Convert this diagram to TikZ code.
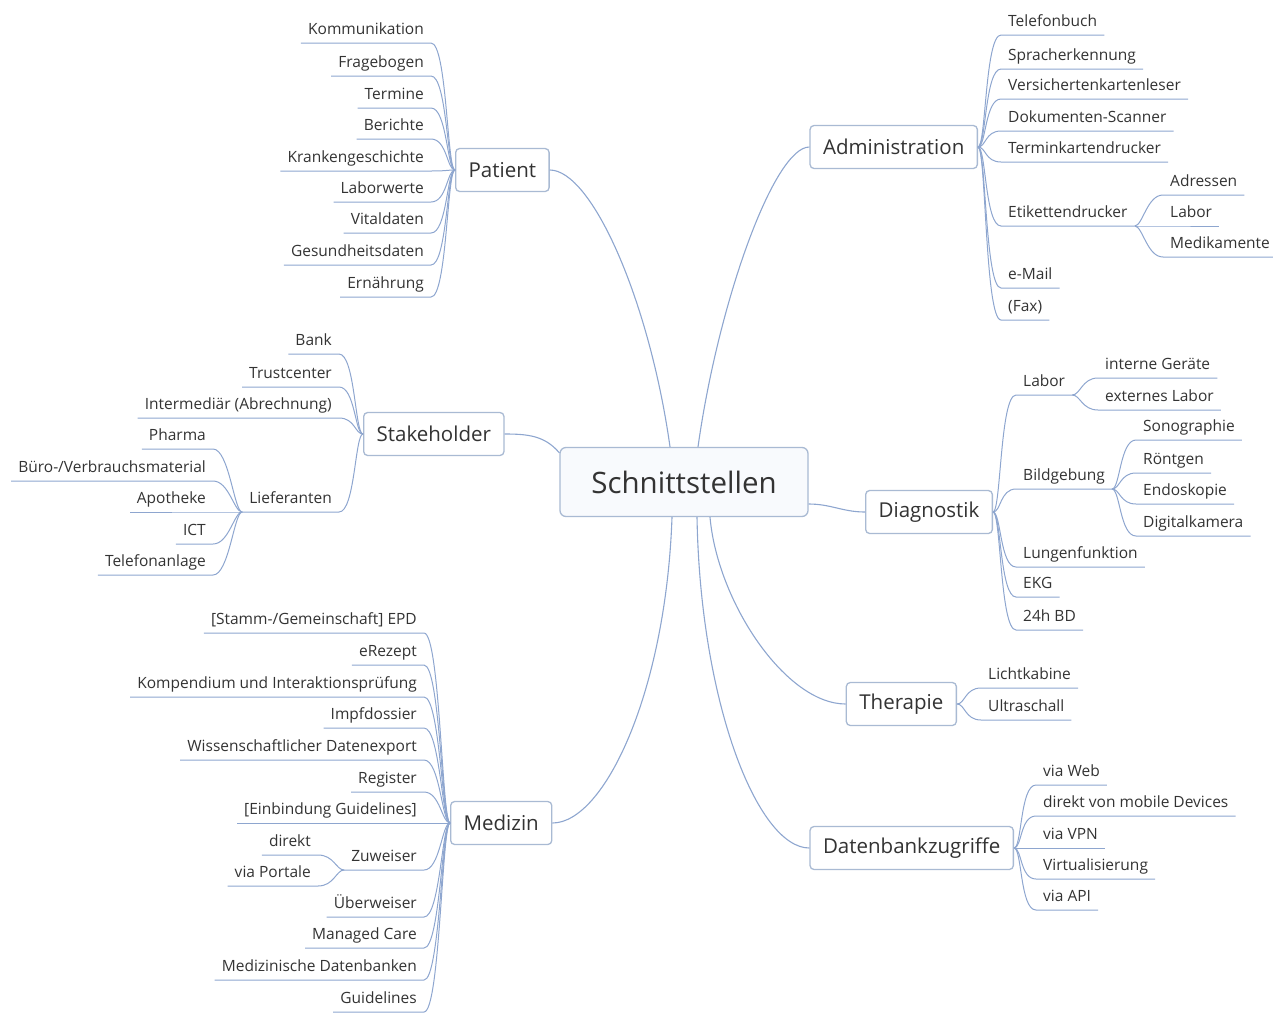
\documentclass[tikz,border=0pt]{standalone}
\usepackage{fontspec}
\setmainfont{Open Sans}
\usepackage{tikz}
\usetikzlibrary{positioning}
\definecolor{linkblue}{HTML}{8EA6CF}
\definecolor{boxline}{HTML}{A9BAD3}
\definecolor{hubfill}{HTML}{F8FAFD}
\definecolor{textgray}{HTML}{333333}

\begin{document}
\begin{tikzpicture}[
  x=1pt, y=1pt,
  every node/.style={text=textgray},
  hub/.style={
    rectangle, rounded corners=6pt,
    minimum width=248pt, minimum height=69pt, inner sep=0pt,
    draw=boxline, line width=1.3pt, fill=hubfill,
    font=\fontsize{29.5}{34}\selectfont,
  },
  topic/.style={
    rectangle, rounded corners=4pt,
    minimum height=43pt, inner xsep=13pt, inner ysep=0pt,
    draw=boxline, line width=1.3pt, fill=white,
    font=\fontsize{20.5}{24}\selectfont,
  },
  leaf/.style={
    inner xsep=7pt, inner ysep=4pt, text height=11pt, text depth=4pt,
    font=\fontsize{15.5}{18}\selectfont,
  },
  lleaf/.style={leaf, anchor=south east},
  rleaf/.style={leaf, anchor=south west},
  branch/.style={draw=linkblue, line width=1.1pt},
  twig/.style={draw=linkblue, line width=1pt},
  lcurve/.style={out=180, in=0, out distance=8pt, in distance=16pt},
  rcurve/.style={out=0, in=180, out distance=8pt, in distance=16pt},
]
\useasboundingbox (0,0) rectangle (1273,-1012);

% Centre
\node[hub] (schnitt) at (684,-482) {Schnittstellen};

% Main topics
\node[topic, anchor=west] (patient)  at (455,-170)  {Patient};
\node[topic, anchor=east] (admin)    at (978,-147)  {Administration};
\node[topic, anchor=west] (stake)    at (363,-434)  {Stakeholder};
\node[topic, anchor=east] (diag)     at (993,-512)  {Diagnostik};
\node[topic, anchor=east] (therapie) at (957,-704)  {Therapie};
\node[topic, anchor=east] (dbz)      at (1014,-848) {Datenbankzugriffe};
\node[topic, anchor=west] (medizin)  at (450,-823)  {Medizin};

% Patient — leaves
\node[lleaf] (kom)     at (431,-43)  {Kommunikation};
\node[lleaf] (frage)   at (431,-76)  {Fragebogen};
\node[lleaf] (termine) at (431,-108) {Termine};
\node[lleaf] (bericht) at (431,-139) {Berichte};
\node[lleaf] (kg)      at (431,-171) {Krankengeschichte};
\node[lleaf] (labw)    at (431,-202) {Laborwerte};
\node[lleaf] (vital)   at (431,-233) {Vitaldaten};
\node[lleaf] (gesund)  at (431,-265) {Gesundheitsdaten};
\node[lleaf] (ernaehr) at (431,-297) {Ernährung};

% Administration — leaves
\node[rleaf] (telbuch) at (1001,-35)  {Telefonbuch};
\node[rleaf] (sprache) at (1001,-69)  {Spracherkennung};
\node[rleaf] (vkl)     at (1001,-99)  {Versichertenkartenleser};
\node[rleaf] (scanner) at (1001,-131) {Dokumenten-Scanner};
\node[rleaf] (tkd)     at (1001,-162) {Terminkartendrucker};
\node[rleaf] (etik)    at (1001,-226) {Etikettendrucker};
\node[rleaf] (mail)    at (1001,-288) {e-Mail};
\node[rleaf] (fax)     at (1001,-320) {(Fax)};
\node[rleaf] (adr)     at (1163,-195) {Adressen};
\node[rleaf] (labetik) at (1163,-226) {Labor};
\node[rleaf] (medik)   at (1163,-257) {Medikamente};

% Stakeholder — leaves
\node[lleaf] (bank)    at (339,-354) {Bank};
\node[lleaf] (trust)   at (339,-387) {Trustcenter};
\node[lleaf] (inter)   at (339,-418) {Intermediär (Abrechnung)};
\node[lleaf] (lief)    at (339,-512) {Lieferanten};
\node[lleaf] (pharma)  at (213,-449) {Pharma};
\node[lleaf] (buero)   at (213,-481) {Büro-/Verbrauchsmaterial};
\node[lleaf] (apo)     at (213,-512) {Apotheke};
\node[lleaf] (ict)     at (213,-544) {ICT};
\node[lleaf] (telanl)  at (213,-575) {Telefonanlage};

% Diagnostik — leaves
\node[rleaf] (labdia)  at (1016,-395) {Labor};
\node[rleaf] (intern)  at (1098,-378) {interne Geräte};
\node[rleaf] (extern)  at (1098,-410) {externes Labor};
\node[rleaf] (bild)    at (1016,-489) {Bildgebung};
\node[rleaf] (sono)    at (1136,-440) {Sonographie};
\node[rleaf] (roent)   at (1136,-473) {Röntgen};
\node[rleaf] (endo)    at (1136,-504) {Endoskopie};
\node[rleaf] (digi)    at (1136,-536) {Digitalkamera};
\node[rleaf] (lunge)   at (1016,-567) {Lungenfunktion};
\node[rleaf] (ekg)     at (1016,-597) {EKG};
\node[rleaf] (bd)      at (1016,-630) {24h BD};

% Therapie — leaves
\node[rleaf] (licht)   at (981,-688) {Lichtkabine};
\node[rleaf] (ultra)   at (981,-720) {Ultraschall};

% Datenbankzugriffe — leaves
\node[rleaf] (web)     at (1036,-785) {via Web};
\node[rleaf] (mobile)  at (1036,-816) {direkt von mobile Devices};
\node[rleaf] (vpn)     at (1036,-848) {via VPN};
\node[rleaf] (virt)    at (1036,-879) {Virtualisierung};
\node[rleaf] (api)     at (1036,-910) {via API};

% Medizin — leaves
\node[lleaf] (epd)     at (424,-633)  {[Stamm-/Gemeinschaft] EPD};
\node[lleaf] (erezept) at (424,-665)  {eRezept};
\node[lleaf] (kompend) at (424,-697)  {Kompendium und Interaktionsprüfung};
\node[lleaf] (impf)    at (424,-728)  {Impfdossier};
\node[lleaf] (wiss)    at (424,-760)  {Wissenschaftlicher Datenexport};
\node[lleaf] (register) at (424,-792) {Register};
\node[lleaf] (einb)    at (424,-823)  {[Einbindung Guidelines]};
\node[lleaf] (zuw)     at (424,-870)  {Zuweiser};
\node[lleaf] (direkt)  at (318,-855)  {direkt};
\node[lleaf] (portale) at (318,-886)  {via Portale};
\node[lleaf] (ueberw)  at (424,-917)  {Überweiser};
\node[lleaf] (managed) at (424,-948)  {Managed Care};
\node[lleaf] (meddb)   at (424,-980)  {Medizinische Datenbanken};
\node[lleaf] (guide)   at (424,-1012) {Guidelines};

% Centre -> main topics
\draw[branch] ([xshift=-14pt]schnitt.north) to[out=98, in=0, out distance=148pt, in distance=42pt] (patient.east);
\draw[branch] ([xshift=14pt]schnitt.north) to[out=82, in=180, out distance=148pt, in distance=35pt] (admin.west);
\draw[branch] ([yshift=-6pt]schnitt.north west) to[out=130, in=0] (stake.east);
\draw[branch] ([yshift=-22pt]schnitt.east) to[out=0, in=180] (diag.west);
\draw[branch] ([xshift=26pt]schnitt.south) to[out=275, in=180, out distance=85pt, in distance=60pt] (therapie.west);
\draw[branch] ([xshift=13pt]schnitt.south) to[out=271, in=180, out distance=185pt, in distance=52pt] (dbz.west);
\draw[branch] ([xshift=-12pt]schnitt.south) to[out=268, in=0, out distance=175pt, in distance=52pt] (medizin.east);

% Patient -> leaves
\draw[twig] (patient.west) to[lcurve] (kom.south east) -- (kom.south west);
\draw[twig] (patient.west) to[lcurve] (frage.south east) -- (frage.south west);
\draw[twig] (patient.west) to[lcurve] (termine.south east) -- (termine.south west);
\draw[twig] (patient.west) to[lcurve] (bericht.south east) -- (bericht.south west);
\draw[twig] (patient.west) to[lcurve] (kg.south east) -- (kg.south west);
\draw[twig] (patient.west) to[lcurve] (labw.south east) -- (labw.south west);
\draw[twig] (patient.west) to[lcurve] (vital.south east) -- (vital.south west);
\draw[twig] (patient.west) to[lcurve] (gesund.south east) -- (gesund.south west);
\draw[twig] (patient.west) to[lcurve] (ernaehr.south east) -- (ernaehr.south west);

% Administration -> leaves
\draw[twig] (admin.east) to[rcurve] (telbuch.south west) -- (telbuch.south east);
\draw[twig] (admin.east) to[rcurve] (sprache.south west) -- (sprache.south east);
\draw[twig] (admin.east) to[rcurve] (vkl.south west) -- (vkl.south east);
\draw[twig] (admin.east) to[rcurve] (scanner.south west) -- (scanner.south east);
\draw[twig] (admin.east) to[rcurve] (tkd.south west) -- (tkd.south east);
\draw[twig] (admin.east) to[rcurve] (etik.south west) -- (etik.south east);
\draw[twig] (admin.east) to[rcurve] (mail.south west) -- (mail.south east);
\draw[twig] (admin.east) to[rcurve] (fax.south west) -- (fax.south east);
\draw[twig] (etik.south east) to[rcurve] (adr.south west) -- (adr.south east);
\draw[twig] (etik.south east) to[rcurve] (labetik.south west) -- (labetik.south east);
\draw[twig] (etik.south east) to[rcurve] (medik.south west) -- (medik.south east);

% Stakeholder -> leaves
\draw[twig] (stake.west) to[lcurve] (bank.south east) -- (bank.south west);
\draw[twig] (stake.west) to[lcurve] (trust.south east) -- (trust.south west);
\draw[twig] (stake.west) to[lcurve] (inter.south east) -- (inter.south west);
\draw[twig] (stake.west) to[lcurve] (lief.south east) -- (lief.south west);
\draw[twig] (lief.south west) to[lcurve] (pharma.south east) -- (pharma.south west);
\draw[twig] (lief.south west) to[lcurve] (buero.south east) -- (buero.south west);
\draw[twig] (lief.south west) to[lcurve] (apo.south east) -- (apo.south west);
\draw[twig] (lief.south west) to[lcurve] (ict.south east) -- (ict.south west);
\draw[twig] (lief.south west) to[lcurve] (telanl.south east) -- (telanl.south west);

% Diagnostik -> leaves
\draw[twig] (diag.east) to[rcurve] (labdia.south west) -- (labdia.south east);
\draw[twig] (labdia.south east) to[rcurve] (intern.south west) -- (intern.south east);
\draw[twig] (labdia.south east) to[rcurve] (extern.south west) -- (extern.south east);
\draw[twig] (diag.east) to[rcurve] (bild.south west) -- (bild.south east);
\draw[twig] (bild.south east) to[rcurve] (sono.south west) -- (sono.south east);
\draw[twig] (bild.south east) to[rcurve] (roent.south west) -- (roent.south east);
\draw[twig] (bild.south east) to[rcurve] (endo.south west) -- (endo.south east);
\draw[twig] (bild.south east) to[rcurve] (digi.south west) -- (digi.south east);
\draw[twig] (diag.east) to[rcurve] (lunge.south west) -- (lunge.south east);
\draw[twig] (diag.east) to[rcurve] (ekg.south west) -- (ekg.south east);
\draw[twig] (diag.east) to[rcurve] (bd.south west) -- (bd.south east);

% Therapie -> leaves
\draw[twig] (therapie.east) to[rcurve] (licht.south west) -- (licht.south east);
\draw[twig] (therapie.east) to[rcurve] (ultra.south west) -- (ultra.south east);

% Datenbankzugriffe -> leaves
\draw[twig] (dbz.east) to[rcurve] (web.south west) -- (web.south east);
\draw[twig] (dbz.east) to[rcurve] (mobile.south west) -- (mobile.south east);
\draw[twig] (dbz.east) to[rcurve] (vpn.south west) -- (vpn.south east);
\draw[twig] (dbz.east) to[rcurve] (virt.south west) -- (virt.south east);
\draw[twig] (dbz.east) to[rcurve] (api.south west) -- (api.south east);

% Medizin -> leaves
\draw[twig] (medizin.west) to[lcurve] (epd.south east) -- (epd.south west);
\draw[twig] (medizin.west) to[lcurve] (erezept.south east) -- (erezept.south west);
\draw[twig] (medizin.west) to[lcurve] (kompend.south east) -- (kompend.south west);
\draw[twig] (medizin.west) to[lcurve] (impf.south east) -- (impf.south west);
\draw[twig] (medizin.west) to[lcurve] (wiss.south east) -- (wiss.south west);
\draw[twig] (medizin.west) to[lcurve] (register.south east) -- (register.south west);
\draw[twig] (medizin.west) to[lcurve] (einb.south east) -- (einb.south west);
\draw[twig] (medizin.west) to[lcurve] (zuw.south east) -- (zuw.south west);
\draw[twig] (zuw.south west) to[lcurve] (direkt.south east) -- (direkt.south west);
\draw[twig] (zuw.south west) to[lcurve] (portale.south east) -- (portale.south west);
\draw[twig] (medizin.west) to[lcurve] (ueberw.south east) -- (ueberw.south west);
\draw[twig] (medizin.west) to[lcurve] (managed.south east) -- (managed.south west);
\draw[twig] (medizin.west) to[lcurve] (meddb.south east) -- (meddb.south west);
\draw[twig] (medizin.west) to[lcurve] (guide.south east) -- (guide.south west);

\end{tikzpicture}
\end{document}
